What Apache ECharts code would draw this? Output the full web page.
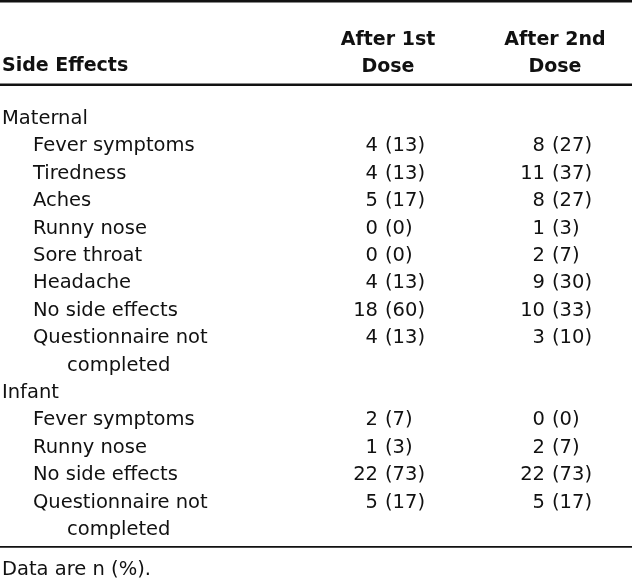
<!DOCTYPE html>
<html>
<head>
<meta charset="utf-8">
<script src="https://cdn.jsdelivr.net/npm/echarts@6/dist/echarts.min.js"></script>
<style>
html,body{margin:0;padding:0;background:#fff;}
#chart{width:632px;height:582px;}
</style>
</head>
<body>
<div id="chart"></div>
<script>
// ---- data ----
var columnHeaders = ['After 1st\nDose', 'After 2nd\nDose'];
var rowHeader = 'Side Effects';
var footnote = 'Data are n (%).';

var groups = ['Maternal', 'Infant'];

var maternalItems = ['Fever symptoms', 'Tiredness', 'Aches', 'Runny nose', 'Sore throat', 'Headache', 'No side effects', 'Questionnaire not\ncompleted'];
var maternalDose1N = [4, 4, 5, 0, 0, 4, 18, 4];
var maternalDose1Pct = [13, 13, 17, 0, 0, 13, 60, 13];
var maternalDose2N = [8, 11, 8, 1, 2, 9, 10, 3];
var maternalDose2Pct = [27, 37, 27, 3, 7, 30, 33, 10];

var infantItems = ['Fever symptoms', 'Runny nose', 'No side effects', 'Questionnaire not\ncompleted'];
var infantDose1N = [2, 1, 22, 5];
var infantDose1Pct = [7, 3, 73, 17];
var infantDose2N = [0, 2, 22, 5];
var infantDose2Pct = [0, 7, 73, 17];

// ---- layout/style ----
var FONT = 'DejaVu Sans';
var FS = 19.5;
var TXT = '#111';
var X_GROUP = 2, X_ITEM = 33, X_WRAP = 67;
var X_N = [378, 545], X_P = [385, 552];
var X_HEAD = [388, 555];

// build rows
var rows = [];           // row keys for category axis
var labelPts = [];       // [x, row, text]
var nPts = [[], []];
var pPts = [[], []];
function addGroup(name, items, n1, p1, n2, p2) {
  rows.push('r' + rows.length);
  labelPts.push([X_GROUP, rows.length - 1, name]);
  items.forEach(function (it, i) {
    var parts = it.split('\n');
    var r = rows.length;
    parts.forEach(function (part, k) {
      rows.push('r' + rows.length);
      labelPts.push([k === 0 ? X_ITEM : X_WRAP, rows.length - 1, part]);
    });
    nPts[0].push([X_N[0], r, String(n1[i])]);
    pPts[0].push([X_P[0], r, '(' + p1[i] + ')']);
    nPts[1].push([X_N[1], r, String(n2[i])]);
    pPts[1].push([X_P[1], r, '(' + p2[i] + ')']);
  });
}
addGroup(groups[0], maternalItems, maternalDose1N, maternalDose1Pct, maternalDose2N, maternalDose2Pct);
addGroup(groups[1], infantItems, infantDose1N, infantDose1Pct, infantDose2N, infantDose2Pct);

function textSeries(data, align) {
  return {
    type: 'scatter',
    symbolSize: 0,
    silent: true,
    itemStyle: {opacity: 1},
    emphasis: {disabled: true},
    data: data,
    label: {
      show: true,
      position: 'inside',
      align: align,
      verticalAlign: 'middle',
      fontFamily: FONT,
      fontSize: FS,
      color: TXT,
      opacity: 1,
      textBorderWidth: 0,
      formatter: function (p) { return p.data[2]; }
    }
  };
}

var chart = echarts.init(document.getElementById('chart'), null, {renderer: 'canvas'});
var rowTop = 105.3, pitch = 27.4;
var option = {
  animation: false,
  backgroundColor: '#fff',
  grid: {left: 0, right: 0, top: rowTop, height: pitch * rows.length},
  xAxis: {type: 'value', min: 0, max: 632, show: false},
  yAxis: {type: 'category', data: rows, inverse: true, show: false},
  series: [
    textSeries(labelPts, 'left'),
    textSeries(nPts[0], 'right'),
    textSeries(pPts[0], 'left'),
    textSeries(nPts[1], 'right'),
    textSeries(pPts[1], 'left')
  ],
  graphic: [
    {type: 'rect', shape: {x: 0, y: 0, width: 632, height: 2.5}, style: {fill: '#111'}},
    {type: 'rect', shape: {x: 0, y: 83.5, width: 632, height: 2.5}, style: {fill: '#111'}},
    {type: 'rect', shape: {x: 0, y: 546, width: 632, height: 1.8}, style: {fill: '#111'}},
    {type: 'text', left: X_GROUP, top: 57, style: {text: rowHeader, font: 'bold 19px "' + FONT + '"', fill: TXT}},
    {type: 'text', x: X_HEAD[0], y: 54, style: {text: columnHeaders[0], font: 'bold 19px "' + FONT + '"', fill: TXT, align: 'center', verticalAlign: 'middle', lineHeight: 27}},
    {type: 'text', x: X_HEAD[1], y: 54, style: {text: columnHeaders[1], font: 'bold 19px "' + FONT + '"', fill: TXT, align: 'center', verticalAlign: 'middle', lineHeight: 27}},
    {type: 'text', x: X_GROUP, y: 570, style: {text: footnote, font: FS + 'px "' + FONT + '"', fill: TXT, align: 'left', verticalAlign: 'middle'}}
  ]
};
chart.setOption(option);
</script>
</body>
</html>
